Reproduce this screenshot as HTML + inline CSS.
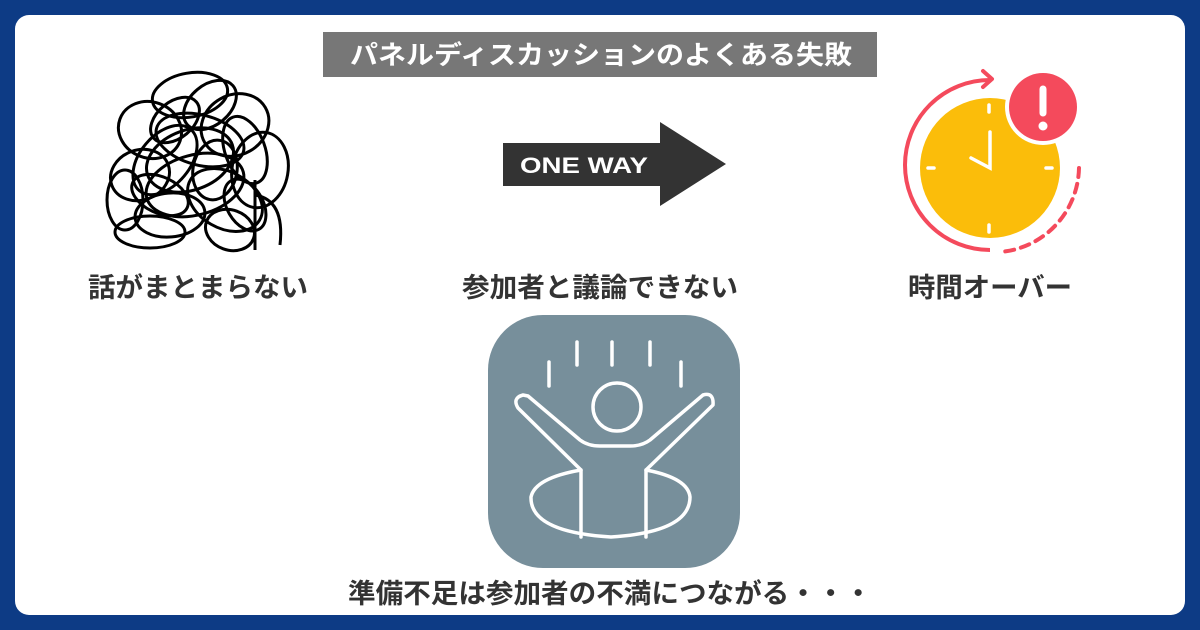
<!DOCTYPE html>
<html><head><meta charset="utf-8"><style>
html,body{margin:0;padding:0;background:#0d3b85;}
svg{display:block}
text{font-family:"Liberation Sans","Noto Sans CJK JP",sans-serif;font-weight:bold}
</style></head><body>
<svg width="1200" height="630" viewBox="0 0 1200 630" xmlns="http://www.w3.org/2000/svg">
<rect width="1200" height="630" fill="#0d3b85"/>
<rect x="15" y="15" width="1170" height="600" rx="14" fill="#fff"/>
<rect x="323" y="32" width="554" height="45" fill="#777"/>
<text x="350" y="64" font-size="26" fill="#fff" textLength="502" lengthAdjust="spacingAndGlyphs">パネルディスカッションのよくある失敗</text>

<g fill="none" stroke="#000" stroke-width="3">
<ellipse cx="190" cy="95" rx="38" ry="22" transform="rotate(-10 190 95)"/>
<ellipse cx="150" cy="130" rx="32" ry="28" transform="rotate(20 150 130)"/>
<ellipse cx="235" cy="125" rx="35" ry="30" transform="rotate(-30 235 125)"/>
<ellipse cx="200" cy="140" rx="45" ry="25" transform="rotate(15 200 140)"/>
<ellipse cx="140" cy="175" rx="30" ry="25" transform="rotate(-20 140 175)"/>
<ellipse cx="260" cy="170" rx="28" ry="38" transform="rotate(10 260 170)"/>
<ellipse cx="195" cy="185" rx="50" ry="30" transform="rotate(-15 195 185)"/>
<ellipse cx="165" cy="160" rx="25" ry="40" transform="rotate(40 165 160)"/>
<ellipse cx="225" cy="200" rx="40" ry="28" transform="rotate(30 225 200)"/>
<ellipse cx="170" cy="215" rx="35" ry="22" transform="rotate(-5 170 215)"/>
<ellipse cx="150" cy="232" rx="35" ry="16"/>
<ellipse cx="230" cy="230" rx="25" ry="20" transform="rotate(20 230 230)"/>
<ellipse cx="210" cy="105" rx="20" ry="30" transform="rotate(50 210 105)"/>
<ellipse cx="245" cy="150" rx="20" ry="35" transform="rotate(-20 245 150)"/>
<ellipse cx="125" cy="200" rx="18" ry="30"/>
<ellipse cx="190" cy="160" rx="30" ry="45" transform="rotate(70 190 160)"/>
<ellipse cx="175" cy="120" rx="28" ry="18" transform="rotate(-40 175 120)"/>
<ellipse cx="215" cy="170" rx="22" ry="30" transform="rotate(10 215 170)"/>
<ellipse cx="160" cy="195" rx="30" ry="18" transform="rotate(25 160 195)"/>
<ellipse cx="245" cy="205" rx="18" ry="28" transform="rotate(-30 245 205)"/>
<path d="M255 195 Q285 200 280 245"/>
<path d="M255 180 L255 250"/>
</g>
<text x="88" y="297" font-size="27" fill="#333" textLength="220" lengthAdjust="spacingAndGlyphs">話がまとまらない</text>

<polygon points="503,143 660,143 660,122 726,164 660,206 660,186 503,186" fill="#333"/>
<text x="520" y="173" font-size="22" fill="#fff" textLength="128" lengthAdjust="spacingAndGlyphs">ONE WAY</text>
<text x="462" y="297" font-size="27" fill="#333" textLength="276" lengthAdjust="spacingAndGlyphs">参加者と議論できない</text>

<g>
<path d="M990 250 A80 80 0 0 1 990 80" fill="none" stroke="#f44a5c" stroke-width="4"/>
<path d="M983 71 L992 79 L983 87" fill="none" stroke="#f44a5c" stroke-width="4" stroke-linecap="round" stroke-linejoin="round"/>
<path d="M1079 168 A86 86 0 0 1 1000 252" fill="none" stroke="#f44a5c" stroke-width="4" stroke-dasharray="9 7" stroke-linecap="round"/>
<circle cx="990" cy="168" r="70" fill="#fbbd0a"/>
<g stroke="#fff" stroke-width="3.5" stroke-linecap="round" fill="none">
<line x1="989" y1="105" x2="989" y2="112"/>
<line x1="989" y1="225" x2="989" y2="232"/>
<line x1="928" y1="168" x2="934" y2="168"/>
<line x1="1046" y1="168" x2="1052" y2="168"/>
<polyline points="990,132 990,168 971,158"/>
</g>
<circle cx="1043" cy="107" r="38" fill="#fff"/>
<circle cx="1043" cy="107" r="34" fill="#f44a5c"/>
<line x1="1043" y1="89" x2="1043" y2="113" stroke="#fff" stroke-width="7" stroke-linecap="round"/>
<circle cx="1043" cy="126" r="4.5" fill="#fff"/>
</g>
<text x="908" y="297" font-size="27" fill="#333" textLength="164" lengthAdjust="spacingAndGlyphs">時間オーバー</text>

<rect x="488" y="315" width="252" height="253" rx="55" fill="#778f9b"/>
<g stroke="#fff" stroke-width="3.5" fill="none" stroke-linecap="round" stroke-linejoin="round">
<line x1="577" y1="342" x2="577" y2="365"/>
<line x1="612" y1="342" x2="612" y2="365"/>
<line x1="650" y1="342" x2="650" y2="365"/>
<line x1="681" y1="362" x2="681" y2="386"/>
<line x1="549" y1="362" x2="549" y2="386"/>
<circle cx="617" cy="407" r="24"/>
<path d="M581 537 L581 470 L518 408 Q512 398 523 395 L528 396 L580 440 Q588 446 600 446 L630 446 Q642 446 650 440 L703 395 Q714 392 713 405 L646 470 L646 537"/>
<path d="M581 470 Q535 478 531 497 Q530 532 611 537 Q690 532 690 497 Q688 478 646 470"/>
</g>
<text x="348" y="603" font-size="27" fill="#333" textLength="524" lengthAdjust="spacingAndGlyphs">準備不足は参加者の不満につながる・・・</text>
</svg>
</body></html>
